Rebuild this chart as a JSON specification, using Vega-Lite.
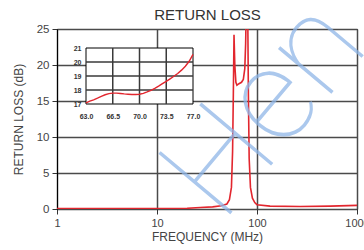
{
  "$schema": "https://vega.github.io/schema/vega-lite/v6.json",
  "width": 300,
  "height": 180,
  "autosize": {"type": "none"},
  "padding": {"left": 57, "top": 29, "right": 7, "bottom": 41},
  "config": {
    "view": {"stroke": "#000000", "strokeWidth": 1},
    "font": "Liberation Sans",
    "axis": {"labelFont": "Liberation Sans", "titleFont": "Liberation Sans", "labelFlush": false, "titleFontWeight": "normal", "labelOverlap": false}
  },
  "resolve": {"scale": {"x": "independent", "y": "independent"}, "axis": {"x": "independent", "y": "independent"}},
  "layer": [
    {
      "data": {"values": [
        {"f": 1, "rl": 0.05}, {"f": 3, "rl": 0.05}, {"f": 10, "rl": 0.05}, {"f": 20, "rl": 0.1},
        {"f": 27, "rl": 0.2}, {"f": 36, "rl": 0.3}, {"f": 44, "rl": 0.45}, {"f": 50, "rl": 0.7},
        {"f": 53, "rl": 1.3}, {"f": 55.5, "rl": 3}, {"f": 57, "rl": 8}, {"f": 58, "rl": 16},
        {"f": 58.9, "rl": 24.2}, {"f": 60, "rl": 20}, {"f": 61.5, "rl": 17.6}, {"f": 63, "rl": 17.2},
        {"f": 66, "rl": 17.4}, {"f": 70, "rl": 17.6}, {"f": 73, "rl": 18}, {"f": 75.5, "rl": 19.5},
        {"f": 77, "rl": 23}, {"f": 78.5, "rl": 30}, {"f": 80.5, "rl": 30}, {"f": 82, "rl": 16},
        {"f": 83.5, "rl": 7}, {"f": 86, "rl": 3}, {"f": 90, "rl": 1.5}, {"f": 95, "rl": 0.9},
        {"f": 100, "rl": 0.6}, {"f": 135, "rl": 0.4}, {"f": 270, "rl": 0.35}, {"f": 540, "rl": 0.4},
        {"f": 1000, "rl": 0.5}
      ]},
      "mark": {"type": "line", "color": "#e2262e", "strokeWidth": 1.6, "clip": true},
      "encoding": {
        "x": {"field": "f", "type": "quantitative",
          "scale": {"type": "log", "domain": [1, 1000], "nice": false},
          "axis": {"orient": "bottom", "values": [1, 10, 100, 1000], "format": "d", "grid": true, "gridColor": "#4a4a4a", "gridWidth": 1.5, "gridOpacity": 1,
            "domain": false, "ticks": true, "tickColor": "#333333", "tickSize": 5, "labelFontSize": 11, "labelColor": "#444444", "labelPadding": 3,
            "title": "FREQUENCY (MHz)", "titleFontSize": 12, "titleColor": "#444444", "titlePadding": 3}},
        "y": {"field": "rl", "type": "quantitative",
          "scale": {"domain": [0, 25], "nice": false},
          "axis": {"orient": "left", "values": [0, 5, 10, 15, 20, 25], "grid": true, "gridColor": "#4a4a4a", "gridWidth": 1.5, "gridOpacity": 1,
            "domain": true, "domainColor": "#000000", "ticks": true, "tickColor": "#333333", "tickSize": 5, "labelFontSize": 11.5, "labelColor": "#444444", "labelPadding": 3,
            "title": "RETURN LOSS (dB)", "titleFontSize": 12, "titleColor": "#444444", "titlePadding": 11}}
      }
    },
    {
      "layer": [
        {
          "data": {"values": [{"lo": 63, "hi": 77, "b": 17, "t": 21}]},
          "mark": {"type": "rect", "fill": "#ffffff", "stroke": "#000000", "strokeWidth": 1},
          "encoding": {
            "x": {"field": "lo", "type": "quantitative",
              "scale": {"domain": [63, 77], "range": [29, 136], "nice": false, "zero": false},
              "axis": {"orient": "bottom", "offset": -105, "values": [63, 66.5, 70, 73.5, 77], "format": ".1f", "grid": false, "domain": false, "ticks": false,
                "labelFontSize": 7, "labelFontWeight": "bold", "labelColor": "#333333", "labelPadding": 8, "title": null}},
            "x2": {"field": "hi"},
            "y": {"field": "b", "type": "quantitative",
              "scale": {"domain": [17, 21], "range": [75, 19], "nice": false, "zero": false},
              "axis": {"orient": "left", "offset": -29, "values": [17, 18, 19, 20, 21], "format": "d", "grid": false, "domain": false, "ticks": false,
                "labelFontSize": 7, "labelFontWeight": "bold", "labelColor": "#333333", "labelPadding": 5, "title": null}},
            "y2": {"field": "t"}
          }
        },
        {
          "data": {"values": [{"g": 66.5}, {"g": 70}, {"g": 73.5}]},
          "mark": {"type": "rule", "color": "#3a3a3a", "strokeWidth": 1.5},
          "encoding": {"x": {"field": "g", "type": "quantitative"}, "y": {"datum": 17}, "y2": {"datum": 21}}
        },
        {
          "data": {"values": [{"h": 18}, {"h": 19}, {"h": 20}]},
          "mark": {"type": "rule", "color": "#3a3a3a", "strokeWidth": 1.5},
          "encoding": {"y": {"field": "h", "type": "quantitative"}, "x": {"datum": 63}, "x2": {"datum": 77}}
        },
        {
          "data": {"values": [
            {"fi": 63.0, "ri": 17.08}, {"fi": 63.5, "ri": 17.2}, {"fi": 64.0, "ri": 17.3}, {"fi": 64.5, "ri": 17.42},
            {"fi": 65.0, "ri": 17.55}, {"fi": 65.5, "ri": 17.66}, {"fi": 66.0, "ri": 17.74}, {"fi": 66.5, "ri": 17.78},
            {"fi": 67.0, "ri": 17.78}, {"fi": 67.5, "ri": 17.75}, {"fi": 68.0, "ri": 17.72}, {"fi": 68.5, "ri": 17.7},
            {"fi": 69.0, "ri": 17.68}, {"fi": 69.5, "ri": 17.68}, {"fi": 70.0, "ri": 17.7}, {"fi": 70.5, "ri": 17.76},
            {"fi": 71.0, "ri": 17.86}, {"fi": 71.5, "ri": 17.98}, {"fi": 72.0, "ri": 18.12}, {"fi": 72.5, "ri": 18.28},
            {"fi": 73.0, "ri": 18.45}, {"fi": 73.5, "ri": 18.62}, {"fi": 74.0, "ri": 18.8}, {"fi": 74.5, "ri": 18.98},
            {"fi": 75.0, "ri": 19.18}, {"fi": 75.5, "ri": 19.42}, {"fi": 76.0, "ri": 19.7}, {"fi": 76.5, "ri": 20.05},
            {"fi": 77.0, "ri": 20.55}
          ]},
          "mark": {"type": "line", "color": "#e2262e", "strokeWidth": 1.4},
          "encoding": {"x": {"field": "fi", "type": "quantitative"}, "y": {"field": "ri", "type": "quantitative"}}
        }
      ]
    },
    {
      "data": {"values": [{"w": "Hen"}]},
      "mark": {"type": "text", "align": "left", "baseline": "alphabetic", "angle": -50, "fontSize": 132, "font": "Roboto", "fontWeight": 100, "color": "#8fb6e8", "opacity": 0.75},
      "encoding": {
        "text": {"field": "w"},
        "x": {"datum": 44.7, "scale": {"type": "log", "domain": [1, 1000], "nice": false},
          "axis": {"orient": "top", "labels": false, "ticks": false, "domain": false, "grid": false,
            "title": "RETURN LOSS", "titleFontSize": 15, "titleColor": "#333333", "titlePadding": 7}},
        "y": {"datum": -2.1, "scale": {"domain": [0, 25], "nice": false}, "axis": null}
      }
    }
  ]
}
